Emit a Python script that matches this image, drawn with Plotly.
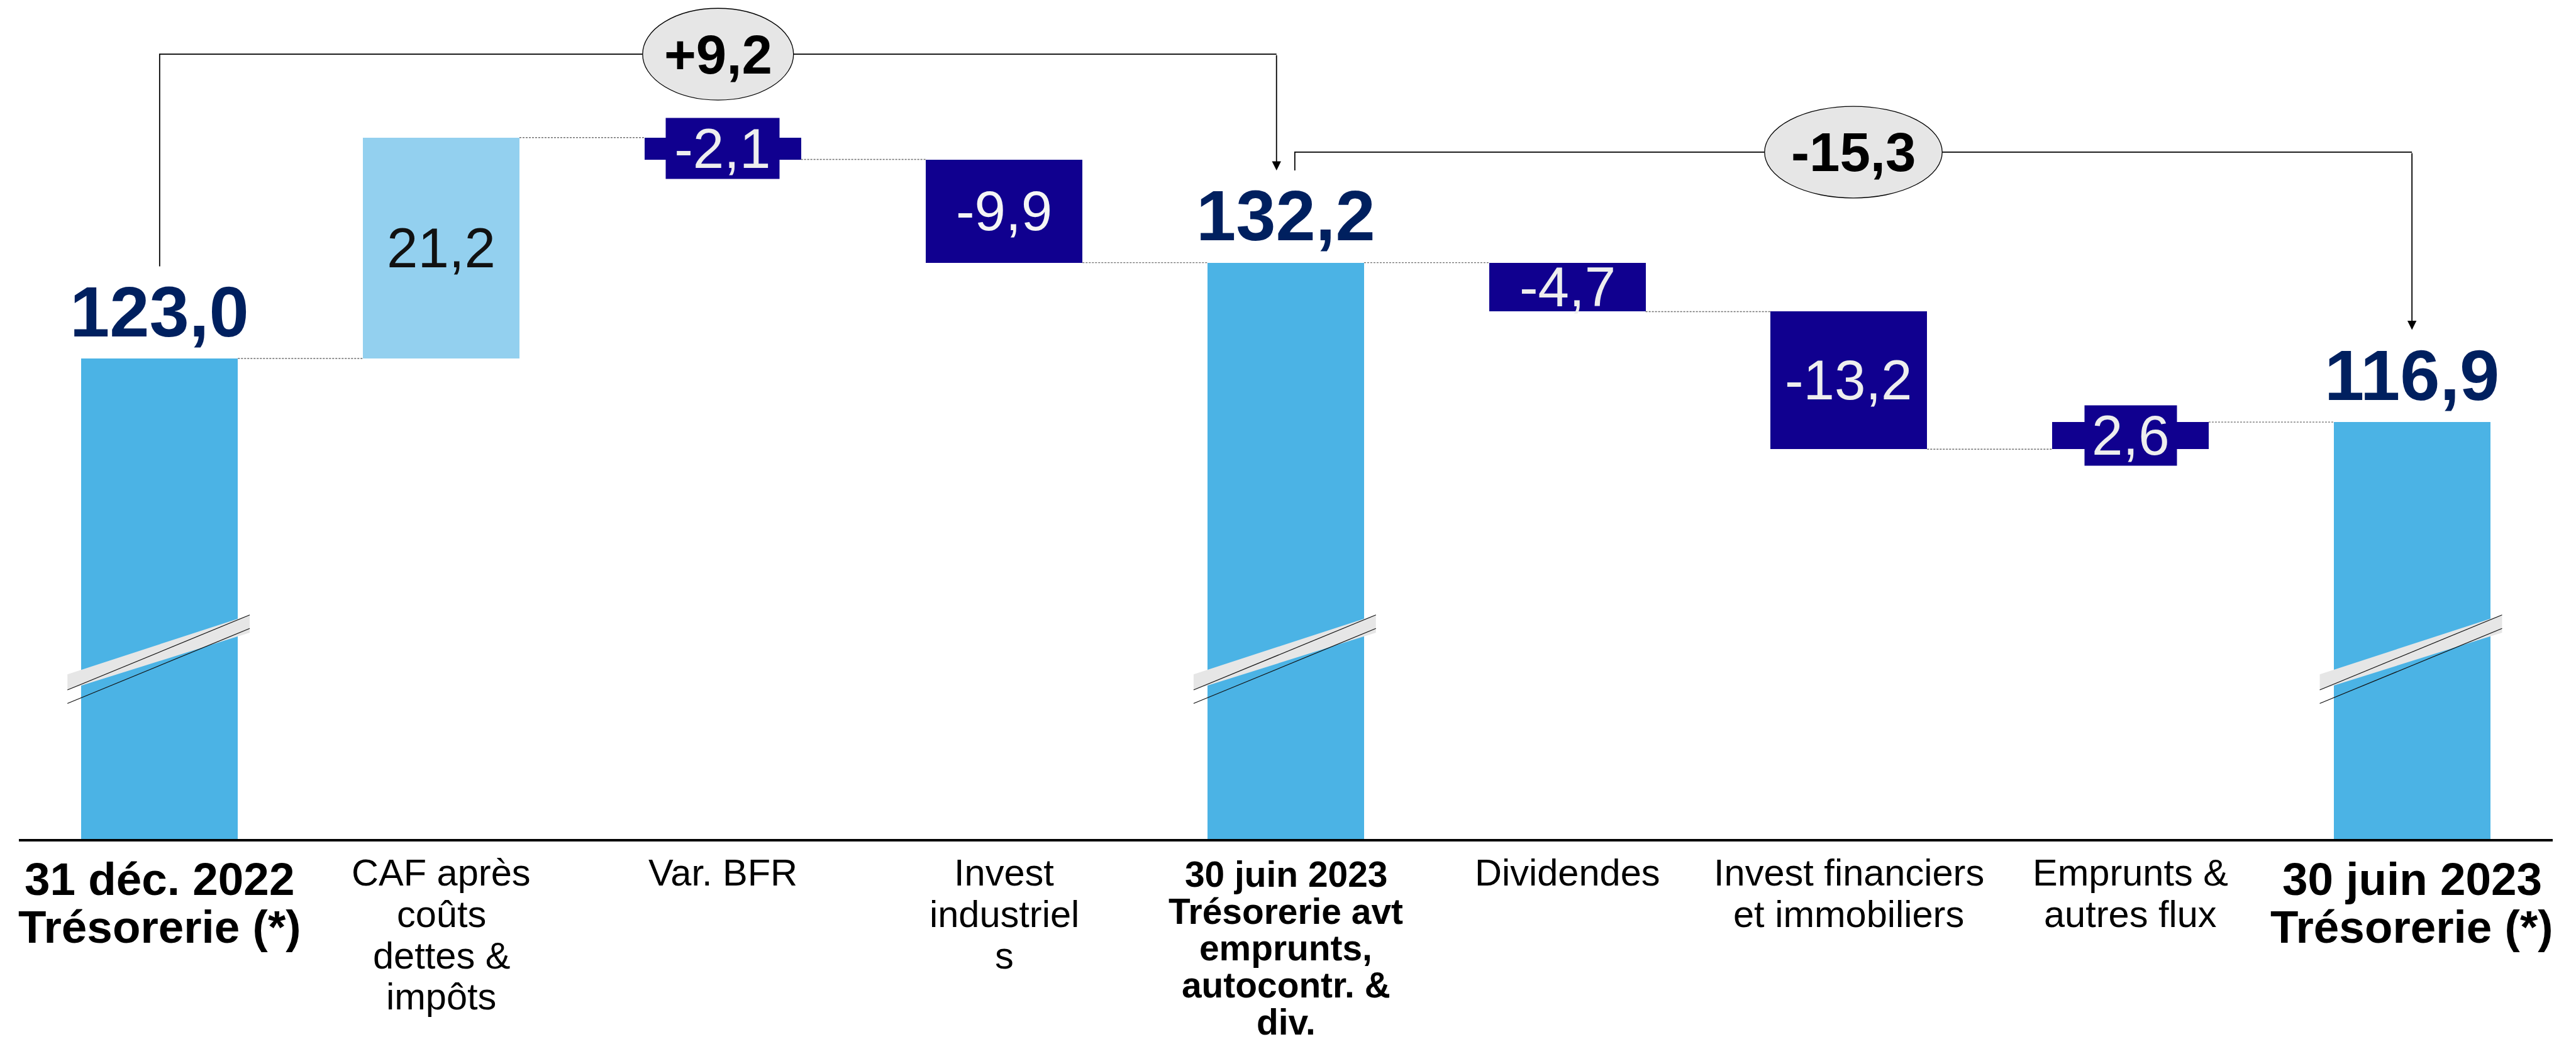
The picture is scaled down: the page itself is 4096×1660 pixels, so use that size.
import plotly.graph_objects as go

# ------------------------------------------------------------------ data
CATEGORY_LINES = [
    ["31 déc. 2022", "Trésorerie (*)"],
    ["CAF après", "coûts", "dettes &", "impôts"],
    ["Var. BFR"],
    ["Invest", "industriel", "s"],
    ["30 juin 2023", "Trésorerie avt", "emprunts,", "autocontr. &", "div."],
    ["Dividendes"],
    ["Invest financiers", "et immobiliers"],
    ["Emprunts &", "autres flux"],
    ["30 juin 2023", "Trésorerie (*)"],
]
MEASURES = ["total", "relative", "relative", "relative", "total",
            "relative", "relative", "relative", "total"]
VALUES = [123.0, 21.2, -2.1, -9.9, 132.2, -4.7, -13.2, 2.6, 116.9]
BRIDGES = [(0, 4), (4, 8)]          # totals compared by the top brackets

# ------------------------------------------------------------------ style
S = 4096 / 4609                      # reference px -> window px
W, H = 4096, 1660
FONT = "Liberation Sans, Arial, Helvetica, sans-serif"
Y_RANGE = [76.9, 157.4]
BAR_W = 0.556
C_TOTAL, C_UP, C_DOWN = "#4BB3E5", "#93D0EF", "#10008F"
C_NAVY = "#00205F"
BAR_COLORS = [C_TOTAL, C_UP, C_DOWN, C_DOWN, C_TOTAL, C_DOWN, C_DOWN, C_DOWN, C_TOTAL]
DELTA_TEXT_COLORS = [None, "#111111", "#EEEEEE", "#F5F5F5", None, "#EEEEEE", "#EEEEEE", "#EEEEEE", None]
DELTA_BOX = [None, None, (202, 108), None, None, None, None, (164, 107), None]  # ref px
# category label styles: (bold, font px, first baseline below axis, line step) in ref px
LABEL_STYLE = [(True, 82, 99, 86), (False, 67, 82, 74), (False, 67, 82, 74),
               (False, 67, 82, 74), (True, 64, 85, 66), (False, 67, 82, 74),
               (False, 67, 82, 74), (False, 67, 82, 74), (True, 82, 99, 86)]
TOTAL_FONT = 128
DELTA_FONT = 100
BRIDGE_FONT = 98
CLEAR = 8.85                          # gap (data units) above total for brackets
BRIDGE_LEVELS = [152.2, 142.8]
BRIDGE_XOFF = [(0.0, -0.033), (0.032, 0.0)]
ELLIPSE_SIZE = [(0.536, 8.8), (0.631, 8.8)]
BREAK = dict(xl=-0.3275, xr=0.32, band=[(92.7, 91.2), (98.4, 96.7)],
             line1=(91.2, 98.4), line2=(89.9, 97.1))


def fmt(v, sign=False):
    s = f"{abs(v):.1f}".replace(".", ",")
    if v < 0:
        return "-" + s
    return ("+" + s) if sign else s


# cumulative positions
bases, heights, ends = [], [], []
run = 0.0
for m, v in zip(MEASURES, VALUES):
    if m == "total":
        bases.append(0.0)
        run = v
    else:
        bases.append(run)
        run = run + v
    heights.append(v)
    ends.append(round(run, 4))

xs = list(range(len(VALUES)))

fig = go.Figure()
fig.add_trace(go.Bar(
    x=xs, y=heights, base=bases, width=BAR_W,
    marker=dict(color=BAR_COLORS, line=dict(width=0)),
    hoverinfo="skip", showlegend=False,
))

shapes = []
annotations = []

# dotted connectors
for i in range(len(VALUES) - 1):
    shapes.append(dict(type="line", xref="x", yref="y",
                       x0=i + BAR_W / 2, x1=i + 1 - BAR_W / 2,
                       y0=ends[i], y1=ends[i],
                       line=dict(color="#6E6E6E", width=1.4, dash="3px,2px")))

# axis-break marks on total bars
for i, m in enumerate(MEASURES):
    if m != "total":
        continue
    xl, xr = i + BREAK["xl"], i + BREAK["xr"]
    (lt, lb), (rt, rb) = BREAK["band"]
    shapes.append(dict(type="path", xref="x", yref="y",
                       path=f"M {xl},{lt} L {xr},{rt} L {xr},{rb} L {xl},{lb} Z",
                       fillcolor="#E6E6E6", line=dict(width=0)))
    for (ya, yb) in (BREAK["line1"], BREAK["line2"]):
        shapes.append(dict(type="line", xref="x", yref="y",
                           x0=xl, x1=xr, y0=ya, y1=yb,
                           line=dict(color="#111111", width=1.2)))

# total labels
for i, m in enumerate(MEASURES):
    if m != "total":
        continue
    F = TOTAL_FONT * S
    annotations.append(dict(
        x=i, y=ends[i], xref="x", yref="y", text=fmt(ends[i]), showarrow=False,
        xanchor="center", yanchor="bottom",
        yshift=39 * S - 0.212 * F - 1,
        font=dict(family=FONT, size=F, color=C_NAVY, weight="bold")))

# delta labels
for i, m in enumerate(MEASURES):
    if m == "total":
        continue
    cy = bases[i] + heights[i] / 2
    F = DELTA_FONT * S
    a = dict(x=i, y=cy, xref="x", yref="y", text=fmt(heights[i]), showarrow=False,
             xanchor="center", yanchor="middle",
             font=dict(family=FONT, size=F, color=DELTA_TEXT_COLORS[i]))
    if DELTA_BOX[i]:
        bw, bh = DELTA_BOX[i]
        a.update(bgcolor=C_DOWN, width=bw * S, height=bh * S, borderpad=0)
    annotations.append(a)

# top brackets with ellipse badges
for k, (a, b) in enumerate(BRIDGES):
    dxl, dxr = BRIDGE_XOFF[k]
    xl, xr = a + dxl, b + dxr
    lvl = BRIDGE_LEVELS[k]
    y_start = ends[a] + CLEAR
    y_tip = ends[b] + CLEAR
    shapes.append(dict(type="path", xref="x", yref="y",
                       path=f"M {xl},{y_start} L {xl},{lvl} L {xr},{lvl}",
                       line=dict(color="#000000", width=1.8)))
    annotations.append(dict(x=xr, y=y_tip, ax=xr, ay=lvl, xref="x", yref="y",
                            axref="x", ayref="y", text="", showarrow=True,
                            arrowhead=2, arrowsize=1.6, arrowwidth=1.8,
                            arrowcolor="#000000", standoff=0, startstandoff=0))
    cx = (xl + xr) / 2
    ew, eh = ELLIPSE_SIZE[k]
    shapes.append(dict(type="circle", xref="x", yref="y",
                       x0=cx - ew / 2, x1=cx + ew / 2, y0=lvl - eh / 2, y1=lvl + eh / 2,
                       fillcolor="#E6E6E6", line=dict(color="#000000", width=1.3)))
    annotations.append(dict(x=cx, y=lvl, xref="x", yref="y",
                            text=fmt(ends[b] - ends[a], sign=True), showarrow=False,
                            xanchor="center", yanchor="middle",
                            font=dict(family=FONT, size=BRIDGE_FONT * S, color="#000000",
                                      weight="bold")))

# category labels (one annotation per line)
for i, lines in enumerate(CATEGORY_LINES):
    bold, fs, base0, step = LABEL_STYLE[i]
    F = fs * S
    for j, line in enumerate(lines):
        baseline = (base0 + j * step) * S
        annotations.append(dict(
            x=i, y=0, xref="x", yref="paper", text=line, showarrow=False,
            xanchor="center", yanchor="top",
            yshift=-(baseline - 0.905 * F - 1),
            font=dict(family=FONT, size=F, color="#000000",
                      weight="bold" if bold else "normal")))

axis_y = 1501 * S
fig.update_layout(
    width=W, height=H,
    margin=dict(l=round(34 * S), r=round(W - 4567 * S), t=0, b=round(H - axis_y)),
    paper_bgcolor="white", plot_bgcolor="white",
    bargap=0, showlegend=False,
    xaxis=dict(range=[-0.5, 8.5], showgrid=False, zeroline=False, showticklabels=False,
               ticks="", showline=True, linecolor="#000000", linewidth=3.5, fixedrange=True),
    yaxis=dict(range=Y_RANGE, showgrid=False, zeroline=False, showticklabels=False,
               ticks="", showline=False, fixedrange=True),
    shapes=shapes, annotations=annotations,
)

fig.write_html("out.html", config={"displayModeBar": False},
               post_script="document.body.style.margin='0';document.body.style.overflow='hidden';")
